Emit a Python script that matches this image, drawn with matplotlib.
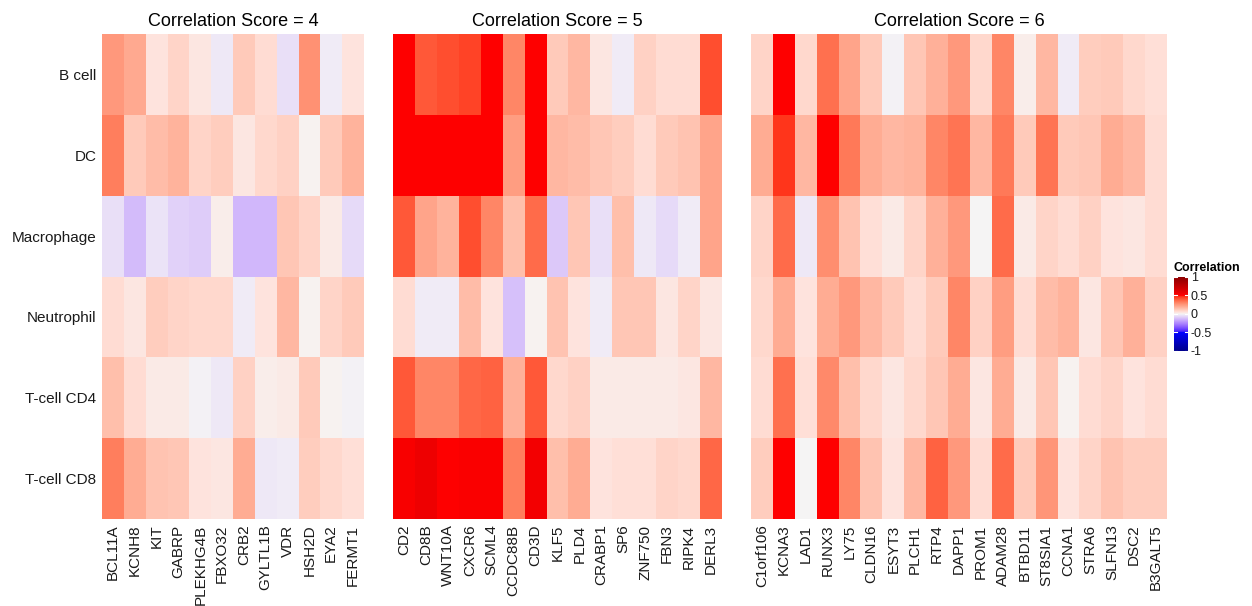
import numpy as np
import matplotlib
matplotlib.use("Agg")
import matplotlib.pyplot as plt
from matplotlib.colors import ListedColormap, Normalize, to_rgb

cell_types = ["B cell", "DC", "Macrophage", "Neutrophil", "T-cell CD4", "T-cell CD8"]

genes4 = ["BCL11A", "KCNH8", "KIT", "GABRP", "PLEKHG4B", "FBXO32", "CRB2",
          "GYLTL1B", "VDR", "HSH2D", "EYA2", "FERMT1"]
vals4 = [
    [0.25, 0.21, 0.05, 0.09, 0.04, -0.03, 0.12, 0.07, -0.05, 0.27, -0.02, 0.05],
    [0.32, 0.12, 0.16, 0.18, 0.09, 0.11, 0.04, 0.08, 0.10, 0.01, 0.12, 0.18],
    [-0.05, -0.13, -0.04, -0.08, -0.09, 0.02, -0.14, -0.14, 0.13, 0.09, 0.03, -0.06],
    [0.07, 0.04, 0.11, 0.09, 0.08, 0.08, -0.02, 0.05, 0.17, 0.01, 0.09, 0.12],
    [0.15, 0.07, 0.03, 0.03, -0.01, -0.03, 0.10, 0.02, 0.03, 0.12, 0.01, -0.01],
    [0.32, 0.20, 0.14, 0.13, 0.05, 0.04, 0.20, -0.03, -0.02, 0.11, 0.08, 0.06],
]

genes5 = ["CD2", "CD8B", "WNT10A", "CXCR6", "SCML4", "CCDC88B", "CD3D", "KLF5",
          "PLD4", "CRABP1", "SP6", "ZNF750", "FBN3", "RIPK4", "DERL3"]
vals5 = [
    [0.50, 0.40, 0.42, 0.44, 0.50, 0.30, 0.50, 0.12, 0.17, 0.04, -0.02, 0.10, 0.07, 0.07, 0.42],
    [0.50, 0.50, 0.50, 0.50, 0.50, 0.24, 0.50, 0.17, 0.16, 0.13, 0.11, 0.07, 0.12, 0.14, 0.22],
    [0.40, 0.22, 0.18, 0.42, 0.30, 0.15, 0.36, -0.10, 0.13, -0.05, 0.15, -0.03, -0.06, -0.02, 0.22],
    [0.07, -0.02, -0.02, 0.16, 0.05, -0.12, 0.01, 0.14, 0.05, -0.02, 0.13, 0.13, 0.04, 0.09, 0.04],
    [0.40, 0.30, 0.30, 0.37, 0.38, 0.19, 0.40, 0.08, 0.10, 0.03, 0.03, 0.03, 0.03, 0.04, 0.17],
    [0.53, 0.57, 0.50, 0.52, 0.52, 0.32, 0.55, 0.15, 0.20, 0.05, 0.06, 0.06, 0.09, 0.08, 0.37],
]

genes6 = ["C1orf106", "KCNA3", "LAD1", "RUNX3", "LY75", "CLDN16", "ESYT3", "PLCH1",
          "RTP4", "DAPP1", "PROM1", "ADAM28", "BTBD11", "ST8SIA1", "CCNA1", "STRA6",
          "SLFN13", "DSC2", "B3GALT5"]
vals6 = [
    [0.09, 0.50, 0.08, 0.35, 0.22, 0.12, -0.01, 0.13, 0.19, 0.25, 0.08, 0.30, 0.02, 0.17, -0.02, 0.11, 0.12, 0.08, 0.06],
    [0.20, 0.46, 0.17, 0.50, 0.33, 0.20, 0.17, 0.18, 0.30, 0.34, 0.17, 0.33, 0.12, 0.34, 0.12, 0.13, 0.20, 0.17, 0.07],
    [0.09, 0.36, -0.03, 0.28, 0.14, 0.06, 0.03, 0.09, 0.19, 0.25, 0.00, 0.36, 0.03, 0.09, 0.07, 0.10, 0.05, 0.04, 0.07],
    [0.08, 0.20, 0.05, 0.20, 0.25, 0.17, 0.12, 0.07, 0.12, 0.30, 0.10, 0.24, 0.07, 0.16, 0.18, 0.04, 0.13, 0.19, 0.10],
    [0.07, 0.35, 0.06, 0.29, 0.15, 0.08, 0.04, 0.08, 0.13, 0.20, 0.04, 0.20, 0.03, 0.13, 0.01, 0.07, 0.09, 0.05, 0.07],
    [0.11, 0.50, 0.00, 0.50, 0.30, 0.14, 0.05, 0.17, 0.38, 0.25, 0.07, 0.36, 0.12, 0.26, 0.05, 0.09, 0.14, 0.11, 0.11],
]

panel_titles = ["Correlation Score = 4", "Correlation Score = 5", "Correlation Score = 6"]
legend_ticks = [-1, -0.5, 0, 0.5, 1]
legend_ticklabels = ["-1", "-0.5", "0", "0.5", "1"]

# ---- Lab-interpolated colormap (like ggplot2 gradientn) ----
def srgb_to_lab(rgb):
    rgb = np.asarray(rgb, float)
    lin = np.where(rgb <= 0.04045, rgb / 12.92, ((rgb + 0.055) / 1.055) ** 2.4)
    M = np.array([[0.4124, 0.3576, 0.1805], [0.2126, 0.7152, 0.0722], [0.0193, 0.1192, 0.9505]])
    xyz = lin @ M.T / np.array([0.95047, 1.0, 1.08883])
    f = np.where(xyz > 0.008856, np.cbrt(xyz), 7.787 * xyz + 16 / 116)
    L = 116 * f[..., 1] - 16
    a = 500 * (f[..., 0] - f[..., 1])
    b = 200 * (f[..., 1] - f[..., 2])
    return np.stack([L, a, b], -1)

def lab_to_srgb(lab):
    lab = np.asarray(lab, float)
    fy = (lab[..., 0] + 16) / 116
    fx = fy + lab[..., 1] / 500
    fz = fy - lab[..., 2] / 200
    f = np.stack([fx, fy, fz], -1)
    xyz = np.where(f ** 3 > 0.008856, f ** 3, (f - 16 / 116) / 7.787)
    xyz = xyz * np.array([0.95047, 1.0, 1.08883])
    Minv = np.array([[3.2406, -1.5372, -0.4986], [-0.9689, 1.8758, 0.0415], [0.0557, -0.2040, 1.0570]])
    lin = xyz @ Minv.T
    lin = np.clip(lin, 0, 1)
    rgb = np.where(lin <= 0.0031308, 12.92 * lin, 1.055 * lin ** (1 / 2.4) - 0.055)
    return np.clip(rgb, 0, 1)

stop_pos = np.array([0.0, 0.25, 0.5, 0.75, 1.0])
stop_cols = srgb_to_lab([to_rgb(c) for c in ["#00008B", "#0000FF", "#F5F5F5", "#FF0000", "#8B0000"]])
xs = np.linspace(0, 1, 512)
lab = np.stack([np.interp(xs, stop_pos, stop_cols[:, k]) for k in range(3)], -1)
cmap = ListedColormap(lab_to_srgb(lab))
norm = Normalize(-1, 1)

plt.rcParams['font.family'] = ['Liberation Sans', 'DejaVu Sans']

W, H = 1252, 606
fig = plt.figure(figsize=(W / 100, H / 100), dpi=100)

top, bottom = 34, 519
panels = [(102, 364, genes4, vals4), (393, 722, genes5, vals5), (751, 1167, genes6, vals6)]
for (x0, x1, genes, vals), title in zip(panels, panel_titles):
    ax = fig.add_axes([x0 / W, 1 - bottom / H, (x1 - x0) / W, (bottom - top) / H])
    data = np.array(vals)
    ax.pcolormesh(np.arange(len(genes) + 1), np.arange(len(cell_types) + 1), data,
                  cmap=cmap, norm=norm, shading='flat')
    ax.set_xlim(0, len(genes))
    ax.set_ylim(len(cell_types), 0)
    ax.set_xticks(np.arange(len(genes)) + 0.5)
    ax.set_xticklabels(genes, rotation=90, fontsize=11, color='#1a1a1a')
    ax.set_yticks(np.arange(len(cell_types)) + 0.5)
    if x0 == 102:
        ax.set_yticklabels(cell_types, fontsize=11, color='#1a1a1a')
    else:
        ax.set_yticklabels([])
    ax.tick_params(length=0, pad=4)
    for s in ax.spines.values():
        s.set_visible(False)
    ax.set_title(title, fontsize=13, pad=6, color='black')

# colorbar
cax = fig.add_axes([1174 / W, 1 - 351 / H, 14 / W, (351 - 277) / H])
grad = np.linspace(-1, 1, 300).reshape(-1, 1)
cax.pcolormesh([0, 1], np.linspace(-1, 1, 301), grad, cmap=cmap, norm=norm, shading='flat')
cax.set_xlim(0, 1)
cax.set_ylim(-1, 1)
cax.set_xticks([])
cax.yaxis.tick_right()
cax.set_yticks(legend_ticks)
cax.set_yticklabels(legend_ticklabels, fontsize=9, color='#1a1a1a')
cax.tick_params(axis='y', length=0, pad=2)
for t in legend_ticks:
    cax.plot([0, 0.2], [t, t], color='white', lw=0.8)
    cax.plot([0.8, 1], [t, t], color='white', lw=0.8)
for s in cax.spines.values():
    s.set_visible(False)
fig.text(1174 / W, 1 - 268 / H, "Correlation", fontsize=9, fontweight='bold', va='center', ha='left')

fig.savefig("out.png", dpi=100, facecolor='white')
